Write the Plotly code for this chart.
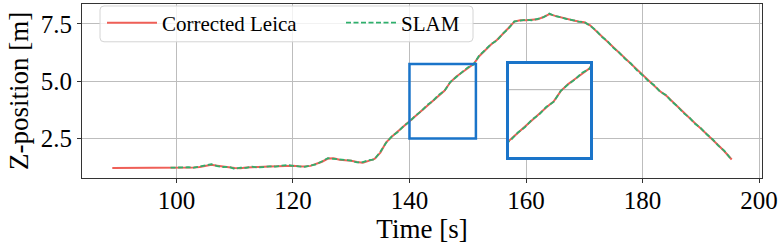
import plotly.graph_objects as go

# ---------------- data ----------------
leica_t = [89, 90, 91, 92, 93, 94, 95, 96, 97, 98, 99, 100, 101, 102, 103, 104, 105, 106, 107, 108,
           109, 110, 111, 112, 113, 114, 115, 116, 117, 118, 119, 120, 121, 122, 123, 124, 125, 126,
           127, 128, 129, 130, 131, 132, 133, 134, 135, 136, 137, 138, 139, 140, 141, 142, 143, 144,
           145, 146, 147, 148, 149, 150, 151, 152, 153, 154, 155, 156, 157, 158, 159, 160, 161, 162,
           163, 164, 165, 166, 167, 168, 169, 170, 171, 172, 173, 174, 175, 176, 177, 178, 179, 180,
           181, 182, 183, 184, 185, 186, 187, 188, 189, 190, 191, 192, 193, 194, 195, 195.3]
leica_z = [1.21, 1.21, 1.21, 1.21, 1.21, 1.21, 1.21, 1.21, 1.21, 1.21, 1.21, 1.22, 1.22, 1.23, 1.23,
           1.25, 1.30, 1.35, 1.31, 1.26, 1.24, 1.21, 1.20, 1.23, 1.25, 1.24, 1.26, 1.27, 1.28, 1.30,
           1.33, 1.31, 1.28, 1.27, 1.30, 1.38, 1.48, 1.62, 1.63, 1.57, 1.56, 1.52, 1.47, 1.44, 1.52,
           1.60, 1.88, 2.33, 2.58, 2.80, 3.02, 3.24, 3.47, 3.70, 3.93, 4.15, 4.38, 4.58, 4.95, 5.19,
           5.38, 5.58, 5.75, 6.10, 6.35, 6.60, 6.80, 7.05, 7.32, 7.60, 7.66, 7.66, 7.68, 7.70, 7.80,
           7.93, 7.85, 7.78, 7.72, 7.66, 7.61, 7.57, 7.44, 7.20, 6.96, 6.72, 6.47, 6.23, 5.99, 5.75,
           5.50, 5.24, 5.02, 4.80, 4.56, 4.38, 4.13, 3.88, 3.63, 3.40, 3.16, 2.93, 2.70, 2.45, 2.20,
           1.95, 1.65, 1.58]

slam_t = [99, 100, 101, 102, 103, 104, 105, 106, 107, 108, 109, 110, 111, 112, 113, 114, 115, 116,
          117, 118, 119, 120, 121, 122, 123, 124, 125, 126, 127, 128, 129, 130, 131, 132, 133, 134,
          135, 136, 137, 138, 139, 140, 141, 142, 143, 144, 145, 146, 147, 148, 149, 150, 151, 152,
          153, 154, 155, 156, 157, 158, 159, 160, 161, 162, 163, 164, 165, 166, 167, 168, 169, 170,
          171, 172, 173, 174, 175, 176, 177, 178, 179, 180, 181, 182, 183, 184, 185, 186, 187, 188,
          189, 190, 191, 192, 193, 194, 195, 195.2]
slam_z = [1.22, 1.23, 1.21, 1.24, 1.22, 1.27, 1.33, 1.37, 1.29, 1.25, 1.26, 1.17, 1.22, 1.21, 1.27,
          1.23, 1.25, 1.28, 1.27, 1.31, 1.34, 1.30, 1.29, 1.26, 1.31, 1.37, 1.50, 1.64, 1.61, 1.59,
          1.54, 1.53, 1.45, 1.46, 1.55, 1.58, 1.92, 2.31, 2.60, 2.78, 3.04, 3.22, 3.49, 3.68, 3.95,
          4.13, 4.40, 4.57, 4.96, 5.18, 5.36, 5.60, 5.73, 6.13, 6.36, 6.62, 6.77, 7.07, 7.30, 7.61,
          7.64, 7.68, 7.66, 7.72, 7.79, 7.95, 7.84, 7.79, 7.71, 7.67, 7.60, 7.58, 7.42, 7.22, 6.94,
          6.74, 6.45, 6.25, 5.97, 5.77, 5.48, 5.26, 5.00, 4.82, 4.54, 4.40, 4.11, 3.90, 3.61, 3.42,
          3.14, 2.95, 2.68, 2.47, 2.18, 1.97, 1.63, 1.59]

series_names = ["Corrected Leica", "SLAM"]
x_ticks = [100, 120, 140, 160, 180, 200]
y_ticks = [2.5, 5.0, 7.5]

# zoom region (main axes) and inset view ranges
zoom_x = [140, 151.4]
zoom_y = [2.5, 5.75]
inset_x_range = [139.75, 151.1]
inset_y_range = [2.62, 5.92]
inset_grid_y = 5.0

# ---------------- style / layout ----------------
RED = "#EF5F57"
GREEN = "#2FAF6C"
BLUE = "#1A74C9"
GRID = "#bdbdbd"
FONT = "Liberation Serif"

W, H = 781, 248
ML, MR, MT, MB = 82, 19, 3, 70
PW, PH = W - ML - MR, H - MT - MB


def px_x(p):
    return (p - ML) / PW


def px_y(p):
    return (H - MB - p) / PH


fig = go.Figure()

legends = ["legend", "legend2"]
for xa, ya, show in [("x", "y", True), ("x2", "y2", False)]:
    fig.add_trace(go.Scatter(x=leica_t, y=leica_z, mode="lines", name=series_names[0],
                             line=dict(color=RED, width=2), showlegend=show,
                             legend=legends[0], xaxis=xa, yaxis=ya))
    fig.add_trace(go.Scatter(x=slam_t, y=slam_z, mode="lines", name=series_names[1],
                             line=dict(color=GREEN, width=1.8, dash="5px,2.5px"),
                             showlegend=show, legend=legends[1], xaxis=xa, yaxis=ya))

# zoom rectangle on the main axes
fig.add_shape(type="rect", xref="x", yref="y", x0=zoom_x[0], x1=zoom_x[1],
              y0=zoom_y[0], y1=zoom_y[1], line=dict(color=BLUE, width=2.5), layer="above")

# grid line inside the inset
fig.add_shape(type="line", xref="x2", yref="y2", x0=inset_x_range[0], x1=inset_x_range[1],
              y0=inset_grid_y, y1=inset_grid_y, line=dict(color=GRID, width=1), layer="between")

# legend frame (rounded box)
bx0, bx1, by0, by1, r = 100, 473, 5, 41, 4
path = (f"M {px_x(bx0 + r)},{px_y(by0)} L {px_x(bx1 - r)},{px_y(by0)} "
        f"Q {px_x(bx1)},{px_y(by0)} {px_x(bx1)},{px_y(by0 + r)} "
        f"L {px_x(bx1)},{px_y(by1 - r)} Q {px_x(bx1)},{px_y(by1)} {px_x(bx1 - r)},{px_y(by1)} "
        f"L {px_x(bx0 + r)},{px_y(by1)} Q {px_x(bx0)},{px_y(by1)} {px_x(bx0)},{px_y(by1 - r)} "
        f"L {px_x(bx0)},{px_y(by0 + r)} Q {px_x(bx0)},{px_y(by0)} {px_x(bx0 + r)},{px_y(by0)} Z")
fig.add_shape(type="path", xref="paper", yref="paper", path=path,
              fillcolor="rgba(255,255,255,0.8)", line=dict(color="#d4d4d4", width=1),
              layer="above")

leg_common = dict(orientation="h", yanchor="middle", xanchor="left",
                  bgcolor="rgba(0,0,0,0)", borderwidth=0,
                  font=dict(family=FONT, size=21), itemwidth=50)

fig.update_layout(
    width=W, height=H,
    margin=dict(l=ML, r=MR, t=MT, b=MB),
    paper_bgcolor="white", plot_bgcolor="white",
    font=dict(family=FONT, size=25, color="black"),
    showlegend=True,
    legend=dict(x=px_x(102), y=px_y(23), **leg_common),
    legend2=dict(x=px_x(341), y=px_y(23), **leg_common),
    xaxis=dict(domain=[0, 1], range=[83.8, 200.5], tickvals=x_ticks,
               showgrid=True, gridcolor=GRID, gridwidth=1,
               showline=True, mirror=True, linecolor="#333333", linewidth=1.2,
               ticks="outside", ticklen=4, tickcolor="#333333",
               tickfont=dict(size=25), zeroline=False, ticklabelstandoff=-4,
               title=dict(text="Time [s]", font=dict(size=27), standoff=0)),
    yaxis=dict(domain=[0, 1], range=[0.77, 8.37], tickvals=y_ticks, tickformat=".1f",
               showgrid=True, gridcolor=GRID, gridwidth=1,
               showline=True, mirror=True, linecolor="#333333", linewidth=1.2,
               ticks="outside", ticklen=4, tickcolor="#333333",
               tickfont=dict(size=25), zeroline=False,
               title=dict(text="Z-position [m]", font=dict(size=27), standoff=4)),
    xaxis2=dict(domain=[px_x(509), px_x(590)], anchor="y2", range=inset_x_range,
                showticklabels=False, ticks="", showgrid=False, zeroline=False,
                showline=True, mirror=True, linecolor=BLUE, linewidth=2.5),
    yaxis2=dict(domain=[px_y(157), px_y(63)], anchor="x2", range=inset_y_range,
                tickvals=[inset_grid_y], showticklabels=False, ticks="",
                showgrid=True, gridcolor=GRID, gridwidth=1, zeroline=False,
                showline=True, mirror=True, linecolor=BLUE, linewidth=2.5),
)

fig.write_html("out.html", config={"displayModeBar": False},
               post_script="document.body.style.margin='0px';document.body.style.overflow='hidden';")
